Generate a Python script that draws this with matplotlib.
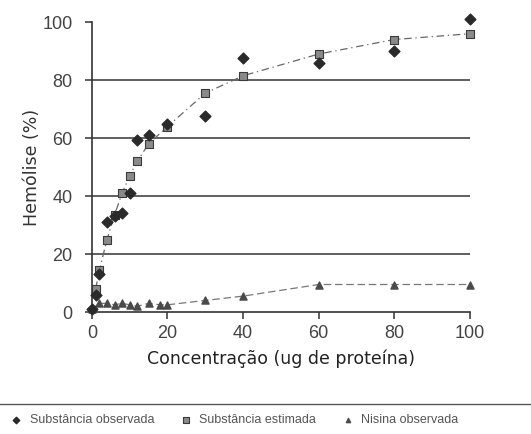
import matplotlib
matplotlib.use("Agg")
import matplotlib.pyplot as plt
from matplotlib.lines import Line2D

plt.rcParams['font.family'] = ['Liberation Sans', 'DejaVu Sans']

# Substância observada (diamonds)
conc_obs = [0, 1, 2, 4, 6, 8, 10, 12, 15, 20, 30, 40, 60, 80, 100]
subst_obs = [1, 6, 13, 31, 33, 34, 41, 59.5, 61, 65, 67.5, 87.5, 86, 90, 101]

# Substância estimada (squares)
conc_est = [1, 2, 4, 6, 8, 10, 12, 15, 20, 30, 40, 60, 80, 100]
subst_est = [8, 14.5, 25, 33.5, 41, 47, 52, 58, 64, 75.5, 81.5, 89, 94, 96]

# Nisina observada (triangles)
conc_nis = [0, 2, 4, 6, 8, 10, 12, 15, 18, 20, 30, 40, 60, 80, 100]
nisina = [1, 3, 3, 2.5, 3, 2.5, 2, 3, 2.5, 2.5, 4, 5.5, 9.5, 9.5, 9.5]

yticks = [0, 20, 40, 60, 80, 100]
xticks = [0, 20, 40, 60, 80, 100]

fig = plt.figure(figsize=(5.31, 4.34), dpi=100)
ax = fig.add_axes([0.173, 0.281, 0.712, 0.668])

for g in [20, 40, 60, 80]:
    ax.plot([0, 100], [g, g], color='#444444', lw=1.2, zorder=1)

ax.plot(conc_est, subst_est, color='#666666', lw=0.9, ls=(0, (6, 3, 1, 3)), zorder=2)
ax.plot(conc_nis, nisina, color='#777777', lw=0.9, ls=(0, (6, 3)), zorder=2)

ax.scatter(conc_obs, subst_obs, marker='D', s=30, color='#2a2a2a', zorder=4,
           clip_on=False, label='Substância observada')
ax.scatter(conc_est, subst_est, marker='s', s=38, facecolor='#8a8a8a',
           edgecolor='#3a3a3a', lw=0.8, zorder=3, clip_on=False,
           label='Substância estimada')
ax.scatter(conc_nis, nisina, marker='^', s=26, color='#4a4a4a', zorder=3,
           clip_on=False, label='Nisina observada')

ax.set_xlim(0, 100)
ax.set_ylim(0, 100)
ax.set_xticks(xticks)
ax.set_yticks(yticks)
ax.spines['top'].set_visible(False)
ax.spines['right'].set_visible(False)
for s in ['left', 'bottom']:
    ax.spines[s].set_color('#333333')
    ax.spines[s].set_linewidth(1.2)
ax.tick_params(axis='y', length=5, width=1.1, color='#333333', pad=9,
               labelsize=13, labelcolor='#444444')
ax.tick_params(axis='x', length=5, width=1.1, color='#333333', pad=4,
               labelsize=13, labelcolor='#444444')

ax.set_ylabel('Hemólise (%)', fontsize=12.5, family='DejaVu Sans',
              color='#333333', labelpad=1)
ax.set_xlabel('Concentração (ug de proteína)', fontsize=12.5,
              family='DejaVu Sans', color='#222222', labelpad=6)

fig.add_artist(Line2D([0, 1], [1 - 404 / 434, 1 - 404 / 434],
                      transform=fig.transFigure, color='#555555', lw=1.0))

fig.legend(loc='center', bbox_to_anchor=(0.44, 1 - 420 / 434), ncol=3,
           frameon=False, fontsize=9, markerscale=0.6, handletextpad=0.5,
           handlelength=1.2, columnspacing=1.9, labelcolor='#555555')

fig.savefig('out.png', dpi=100)
